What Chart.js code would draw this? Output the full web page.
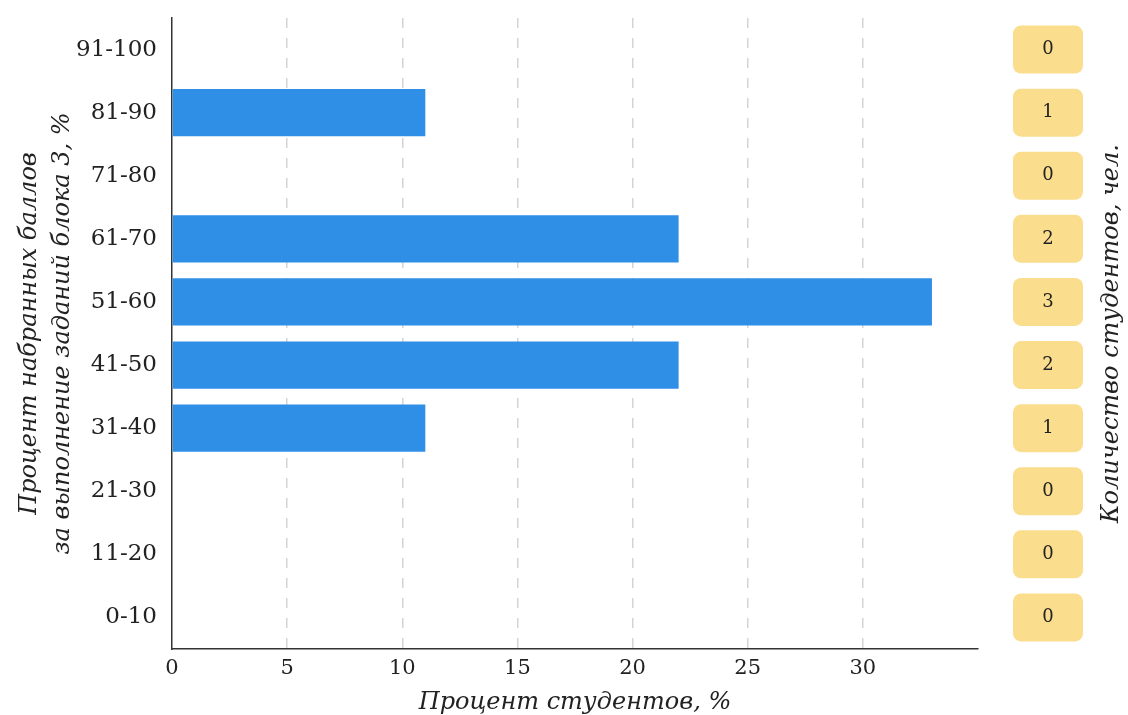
<!DOCTYPE html>
<html>
<head>
<meta charset="utf-8">
<script src="https://cdn.jsdelivr.net/npm/chart.js@4/dist/chart.umd.min.js"></script>
<style>
  body { margin: 0; background: #fff; }
  #wrap { width: 1128px; height: 715px; }
</style>
</head>
<body>
<div id="wrap"><canvas id="barChart" width="1128" height="715"></canvas></div>
<script>
// Данные графика
const categories = ['0-10', '11-20', '21-30', '31-40', '41-50', '51-60', '61-70', '71-80', '81-90', '91-100'];
const percentValues = [0, 0, 0, 11, 22, 33, 22, 0, 11, 0];
const studentCounts = [0, 0, 0, 1, 2, 3, 2, 0, 1, 0];
const xTickValues = [0, 5, 10, 15, 20, 25, 30];

const serif = 'DejaVu Serif';

// Плашки с количеством студентов справа
const countBoxes = {
  id: 'countBoxes',
  afterDraw(chart) {
    const c = chart.ctx;
    const yScale = chart.scales.y;
    c.save();
    studentCounts.forEach((n, i) => {
      const y = yScale.getPixelForValue(i);
      c.fillStyle = '#fbdd8e';
      c.beginPath();
      c.roundRect(1013, y - 24, 70, 48, 8);
      c.fill();
      c.fillStyle = '#222';
      c.font = '18px "' + serif + '"';
      c.textAlign = 'center';
      c.textBaseline = 'middle';
      c.fillText(String(n), 1048, y);
    });
    // подпись справа
    const midY = (chart.chartArea.top + chart.chartArea.bottom) / 2;
    c.translate(1112, midY);
    c.rotate(-Math.PI / 2);
    c.font = 'italic 24px "' + serif + '"';
    c.fillStyle = '#222';
    c.textAlign = 'center';
    c.textBaseline = 'middle';
    c.fillText('Количество студентов, чел.', 0, 0);
    c.restore();
  }
};

const ctx = document.getElementById('barChart').getContext('2d');

const chart = new Chart(ctx, {
  type: 'bar',
  data: {
    labels: categories,
    datasets: [{
      data: percentValues,
      backgroundColor: '#2f8fe6',
      borderWidth: 0,
      categoryPercentage: 1,
      barPercentage: 0.75
    }]
  },
  options: {
    indexAxis: 'y',
    responsive: false,
    animation: false,
    layout: { padding: { top: 18, right: 150, left: 14, bottom: -2 } },
    plugins: {
      legend: { display: false },
      tooltip: { enabled: false }
    },
    scales: {
      x: {
        min: 0,
        max: 35,
        afterBuildTicks: (scale) => {
          scale.ticks = xTickValues.map(v => ({ value: v }));
        },
        grid: {
          drawTicks: false,
          lineWidth: 1.5,
          color: (c) => (c.tick && c.tick.value === 0) ? 'rgba(0,0,0,0)' : '#d4d4d4'
        },
        border: { display: true, color: '#333', width: 1.5, dash: [10, 10] },
        ticks: {
          padding: 7,
          color: '#222',
          font: { family: serif, size: 21 }
        },
        title: {
          display: true,
          text: 'Процент студентов, %',
          color: '#222',
          font: { family: serif, size: 24, style: 'italic' },
          padding: { top: 0, bottom: 0 }
        }
      },
      y: {
        reverse: true,
        afterFit: (scale) => {
          scale.width = 158;
          scale.paddingTop = 0;
          scale.paddingBottom = 0;
        },
        grid: { display: false },
        border: { display: true, color: '#333', width: 1.5 },
        ticks: {
          padding: 7,
          color: '#222',
          font: { family: serif, size: 23 }
        },
        title: {
          display: true,
          text: ['Процент набранных баллов', 'за выполнение заданий блока 3, %'],
          color: '#222',
          font: { family: serif, size: 24, style: 'italic', lineHeight: 1.35 },
          padding: { top: 0, bottom: 0 }
        }
      }
    }
  },
  plugins: [countBoxes]
});
</script>
</body>
</html>
